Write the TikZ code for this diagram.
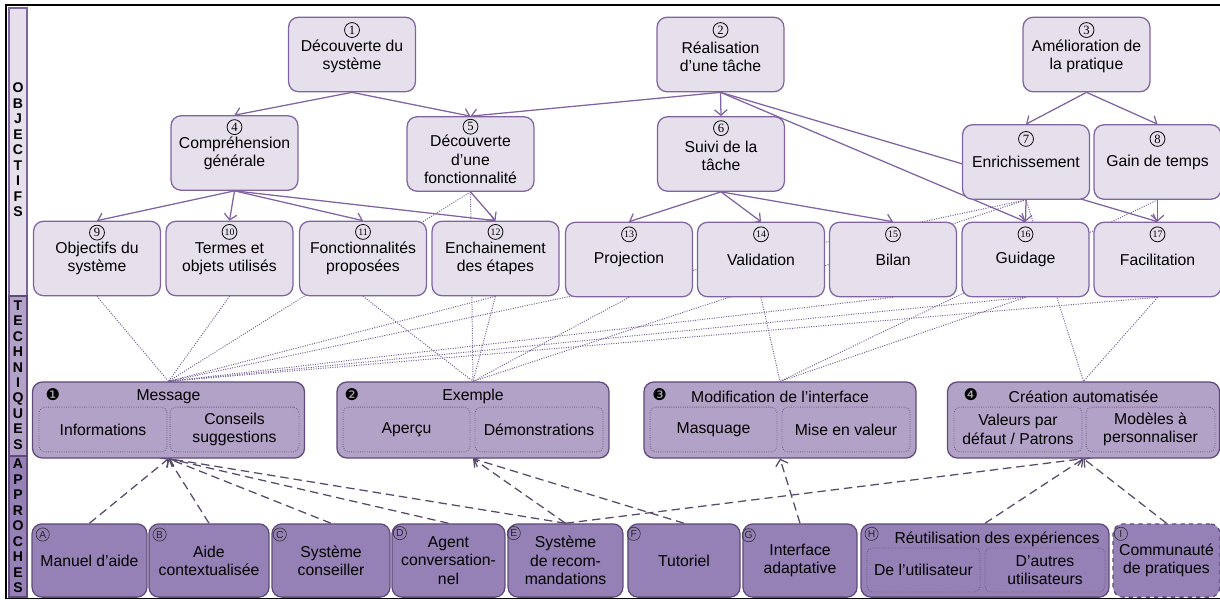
\documentclass[tikz,border=0pt]{standalone}
\usepackage{fontspec}
\setmainfont{Liberation Sans}
\newfontfamily\symfont{DejaVu Sans}
\newfontfamily\serifnum{Liberation Serif}
\usepackage{tikz}
\usetikzlibrary{arrows.meta,backgrounds}

\definecolor{objfill}{HTML}{E5E0EC}
\definecolor{objline}{HTML}{8064A2}
\definecolor{techfill}{HTML}{B3A2C7}
\definecolor{techline}{HTML}{604A7B}
\definecolor{appfill}{HTML}{9581B6}
\definecolor{dotline}{HTML}{6F5C90}
\definecolor{dashline}{HTML}{574A6B}
\definecolor{subline}{HTML}{6E6180}

\begin{document}
\begin{tikzpicture}[%
            x=0.025cm, y=-0.025cm,
            every node/.style={font=\fontsize{11.2}{13}\selectfont},
            objbox/.style={draw=objline, fill=objfill, line width=0.9pt,
                rounded corners=7pt, align=center,
                minimum width=3.17cm, minimum height=1.86cm},
            techbox/.style={draw=techline, fill=techfill, line width=0.9pt,
                rounded corners=7pt, minimum width=6.8cm, minimum height=1.9cm},
            subbox/.style={draw=subline, densely dotted, line width=0.6pt,
                rounded corners=4pt, align=center, minimum height=1.12cm},
            appbox/.style={draw=techline, fill=appfill, line width=0.9pt,
                rounded corners=7pt, align=center, minimum height=1.83cm},
            numlabel/.style={circle, draw=black, line width=0.55pt, inner sep=0pt,
                minimum size=10.6pt, font=\serifnum\fontsize{9}{9}\selectfont},
            twodigit/.style={font=\serifnum\fontsize{7}{7}\selectfont},
            dotlabel/.style={font=\symfont\fontsize{11.5}{11.5}\selectfont, inner sep=0pt},
            letlabel/.style={circle, draw=black!80, line width=0.45pt, inner sep=0pt,
                minimum size=9.4pt, text=black!85, font=\fontsize{7.3}{7.3}\selectfont},
            band/.style={font=\bfseries\fontsize{10}{11}\selectfont, align=center},
            objarrow/.style={objline, line width=0.9pt, -{Straight Barb[length=4pt,width=9pt]}},
            techlink/.style={dotline, densely dotted, line width=0.7pt},
            apparrow/.style={dashline, line width=0.9pt, dash pattern=on 6pt off 3.5pt,
                -{Straight Barb[length=4pt,width=9pt]}},
        ]
        \useasboundingbox (0,0) rectangle (1220,599);

        % cadre et bandeau de gauche
        \draw[line width=1pt] (1225,5) -- (6,5) -- (6,598.5) -- (1225,598.5);
        \draw[draw=objline, fill=objfill, line width=0.8pt] (9,8) rectangle (27,296);
        \draw[draw=techline, fill=techfill, line width=0.8pt] (9,296) rectangle (27,456);
        \draw[draw=techline, fill=appfill, line width=0.8pt] (9,456) rectangle (27,597);
        \node[band] (bandobj) at (18,150) {O\\B\\J\\E\\C\\T\\I\\F\\S};
        \node[band] (bandtech) at (18,375) {T\\E\\C\\H\\N\\I\\Q\\U\\E\\S};
        \node[band] (bandapp) at (18,526) {A\\P\\P\\R\\O\\C\\H\\E\\S};

        % objectifs
        \node[objbox] (decsys) at (352,54.5) {\rule{0pt}{11pt}Découverte du\\système};
        \node[objbox] (realtache) at (720.5,54.5) {\rule{0pt}{11pt}Réalisation\\d’une tâche};
        \node[objbox] (amelprat) at (1086.5,54.5) {\rule{0pt}{11pt}Amélioration de\\la pratique};

        \node[objbox] (comprgen) at (234.5,153) {Compréhension\\générale};
        \node[objbox] (decfonc) at (470.5,154) {\rule{0pt}{16pt}Découverte\\d’une\\fonctionnalité};
        \node[objbox] (suivi) at (721,154) {\rule{0pt}{11pt}Suivi de la\\tâche};
        \node[objbox] (enrich) at (1026,162) {Enrichissement};
        \node[objbox] (gain) at (1157.5,162) {Gain de temps};

        \node[objbox] (objsys) at (97,258.5) {Objectifs du\\système};
        \node[objbox] (termes) at (229.5,258.5) {Termes et\\objets utilisés};
        \node[objbox] (fonctions) at (363,258.5) {Fonctionnalités\\proposées};
        \node[objbox] (enchain) at (495.5,258.5) {Enchainement\\des étapes};
        \node[objbox] (projection) at (629,259.5) {Projection};
        \node[objbox] (validation) at (761,259.5) {Validation};
        \node[objbox] (bilan) at (893,259.5) {Bilan};
        \node[objbox] (guidage) at (1025.5,259.5) {Guidage};
        \node[objbox] (facil) at (1157.5,259.5) {Facilitation};

        \node[numlabel] (n1) at ([yshift=-9.5pt]decsys.north) {1};
        \node[numlabel] (n2) at ([yshift=-9.5pt]realtache.north) {2};
        \node[numlabel] (n3) at ([yshift=-9.5pt]amelprat.north) {3};
        \node[numlabel] (n4) at ([yshift=-8.5pt]comprgen.north) {4};
        \node[numlabel] (n5) at ([yshift=-7.5pt]decfonc.north) {5};
        \node[numlabel] (n6) at ([yshift=-8.5pt]suivi.north) {6};
        \node[numlabel] (n7) at ([yshift=-10.5pt]enrich.north) {7};
        \node[numlabel] (n8) at ([yshift=-10.5pt]gain.north) {8};
        \node[numlabel] (n9) at ([yshift=-8.5pt]objsys.north) {9};
        \node[numlabel, twodigit] (n10) at ([yshift=-8pt]termes.north) {10};
        \node[numlabel, twodigit] (n11) at ([yshift=-8pt]fonctions.north) {11};
        \node[numlabel, twodigit] (n12) at ([yshift=-8pt]enchain.north) {12};
        \node[numlabel, twodigit] (n13) at ([yshift=-9pt]projection.north) {13};
        \node[numlabel, twodigit] (n14) at ([yshift=-9pt]validation.north) {14};
        \node[numlabel, twodigit] (n15) at ([yshift=-9pt]bilan.north) {15};
        \node[numlabel, twodigit] (n16) at ([yshift=-9pt]guidage.north) {16};
        \node[numlabel, twodigit] (n17) at ([yshift=-9pt]facil.north) {17};

        % techniques
        \node[techbox] (message) at (168.5,420) {};
        \node[techbox] (exemple) at (473,420) {};
        \node[techbox] (modif) at (780,420) {};
        \node[techbox] (creation) at (1083.5,420) {};

        \node (msgtitle) at ([yshift=-10.7pt]message.north) {Message};
        \node (extitle) at ([yshift=-10.7pt]exemple.north) {Exemple};
        \node (modtitle) at ([yshift=-10.7pt]modif.north) {Modification de l’interface};
        \node (cretitle) at ([yshift=-10.7pt]creation.north) {Création automatisée};

        \node[dotlabel] (t1) at ([xshift=15pt,yshift=-9.5pt]message.north west) {❶};
        \node[dotlabel] (t2) at ([xshift=11pt,yshift=-9.5pt]exemple.north west) {❷};
        \node[dotlabel] (t3) at ([xshift=11.5pt,yshift=-9.5pt]modif.north west) {❸};
        \node[dotlabel] (t4) at ([xshift=17pt,yshift=-9.5pt]creation.north west) {❹};

        \node[subbox, minimum width=3.2cm] (info) at (103,429.5) {Informations};
        \node[subbox, minimum width=3.22cm] (conseils) at (234.5,429.5) {Conseils\\suggestions};
        \node[subbox, minimum width=3.17cm] (apercu) at (406.5,429.5) {Aperçu};
        \node[subbox, minimum width=3.2cm] (demos) at (539,429.5) {Démonstrations};
        \node[subbox, minimum width=3.17cm] (masquage) at (713.5,429.5) {Masquage};
        \node[subbox, minimum width=3.2cm] (miseval) at (846,429.5) {Mise en valeur};
        \node[subbox, minimum width=3.2cm] (valdef) at (1018,429.5) {Valeurs par\\défaut / Patrons};
        \node[subbox, minimum width=3.22cm] (modeles) at (1150.5,429.5) {Modèles à\\personnaliser};

        % approches
        \node[appbox, minimum width=2.87cm] (manuel) at (89.5,560.5) {Manuel d’aide};
        \node[appbox, minimum width=3.0cm] (aidectx) at (209,560.5) {Aide\\contextualisée};
        \node[appbox, minimum width=2.95cm] (syscons) at (331,560.5) {Système\\conseiller};
        \node[appbox, minimum width=2.82cm] (agent) at (448.5,560.5) {Agent\\conversation-\\nel};
        \node[appbox, minimum width=2.87cm] (recom) at (565.5,560.5) {Système\\de recom-\\mandations};
        \node[appbox, minimum width=2.8cm] (tutoriel) at (684,560.5) {Tutoriel};
        \node[appbox, minimum width=2.85cm] (interf) at (800,560.5) {Interface\\adaptative};
        \node[appbox, minimum width=6.2cm] (reutil) at (985,560.5) {};
        \node[appbox, dashed, minimum width=2.67cm] (communaute) at (1166.5,560.5) {Communauté\\de pratiques};

        \node (reutiltitle) at (997,539) {Réutilisation des expériences};
        \node[subbox, minimum width=2.83cm, minimum height=1.1cm] (deluser) at (923.5,570) {De l’utilisateur};
        \node[subbox, minimum width=3.0cm, minimum height=1.1cm] (autres) at (1045,570) {D’autres\\utilisateurs};

        \node[letlabel] (la) at ([xshift=8pt,yshift=-8pt]manuel.north west) {A};
        \node[letlabel] (lb) at ([xshift=8pt,yshift=-8pt]aidectx.north west) {B};
        \node[letlabel] (lc) at ([xshift=6pt,yshift=-8pt]syscons.north west) {C};
        \node[letlabel] (ld) at ([xshift=6pt,yshift=-7pt]agent.north west) {D};
        \node[letlabel] (le) at ([xshift=4.5pt,yshift=-7pt]recom.north west) {E};
        \node[letlabel] (lf) at ([xshift=4.5pt,yshift=-7.5pt]tutoriel.north west) {F};
        \node[letlabel] (lg) at ([xshift=4.5pt,yshift=-8.5pt]interf.north west) {G};
        \node[letlabel] (lh) at ([xshift=8pt,yshift=-7.5pt]reutil.north west) {H};
        \node[letlabel] (li) at ([xshift=6pt,yshift=-7.5pt]communaute.north west) {I};

        \begin{scope}[on background layer]
            % liens objectifs - techniques
            \draw[techlink] (objsys.south) -- (message.north);
            \draw[techlink] (termes.south) -- (message.north);
            \draw[techlink] (decfonc.south) -- (message.north);
            \draw[techlink] (enchain.south) -- (message.north);
            \draw[techlink] (enrich.south) -- (message.north);
            \draw[techlink] (bilan.south) -- (message.north);
            \draw[techlink] (guidage.south) -- (message.north);
            \draw[techlink] (facil.south) -- (message.north);
            \draw[techlink] (fonctions.south) -- (exemple.north);
            \draw[techlink] (decfonc.south) -- (exemple.north);
            \draw[techlink] (enchain.south) -- (exemple.north);
            \draw[techlink] (projection.south) -- (exemple.north);
            \draw[techlink] (enrich.south) -- (exemple.north);
            \draw[techlink] (validation.south) -- (modif.north);
            \draw[techlink] (gain.south) -- (modif.north);
            \draw[techlink] (guidage.south) -- (modif.north);
            \draw[techlink] (enrich.south) -- (creation.north);
            \draw[techlink] (facil.south) -- (creation.north);

            % objectifs
            \draw[objarrow] (decsys.south) -- (comprgen.north);
            \draw[objarrow] (decsys.south) -- (decfonc.north);
            \draw[objarrow] (realtache.south) -- (decfonc.north);
            \draw[objarrow] (realtache.south) -- (suivi.north);
            \draw[objarrow] (realtache.south) -- (guidage.north);
            \draw[objarrow] (realtache.south) -- (facil.north);
            \draw[objarrow] (amelprat.south) -- (enrich.north);
            \draw[objarrow] (amelprat.south) -- (gain.north);
            \draw[objarrow] (comprgen.south) -- (objsys.north);
            \draw[objarrow] (comprgen.south) -- (termes.north);
            \draw[objarrow] (comprgen.south) -- (fonctions.north);
            \draw[objarrow] (comprgen.south) -- (enchain.north);
            \draw[objarrow] (decfonc.south) -- (enchain.north);
            \draw[objarrow] (suivi.south) -- (projection.north);
            \draw[objarrow] (suivi.south) -- (validation.north);
            \draw[objarrow] (suivi.south) -- (bilan.north);
            \draw[objarrow] (enrich.south) -- (guidage.north);
            \draw[objarrow] (gain.south) -- (facil.north);

            % approches - techniques
            \draw[apparrow] (manuel.north) -- (message.south);
            \draw[apparrow] (aidectx.north) -- (message.south);
            \draw[apparrow] (syscons.north) -- (message.south);
            \draw[apparrow] (agent.north) -- (message.south);
            \draw[apparrow] (recom.north) -- (message.south);
            \draw[apparrow] (recom.north) -- (exemple.south);
            \draw[apparrow] (tutoriel.north) -- (exemple.south);
            \draw[apparrow] (interf.north) -- (modif.south);
            \draw[apparrow] (recom.north) -- (creation.south);
            \draw[apparrow] (reutil.north) -- (creation.south);
            \draw[apparrow] (communaute.north) -- (creation.south);
        \end{scope}
    \end{tikzpicture}
\end{document}
